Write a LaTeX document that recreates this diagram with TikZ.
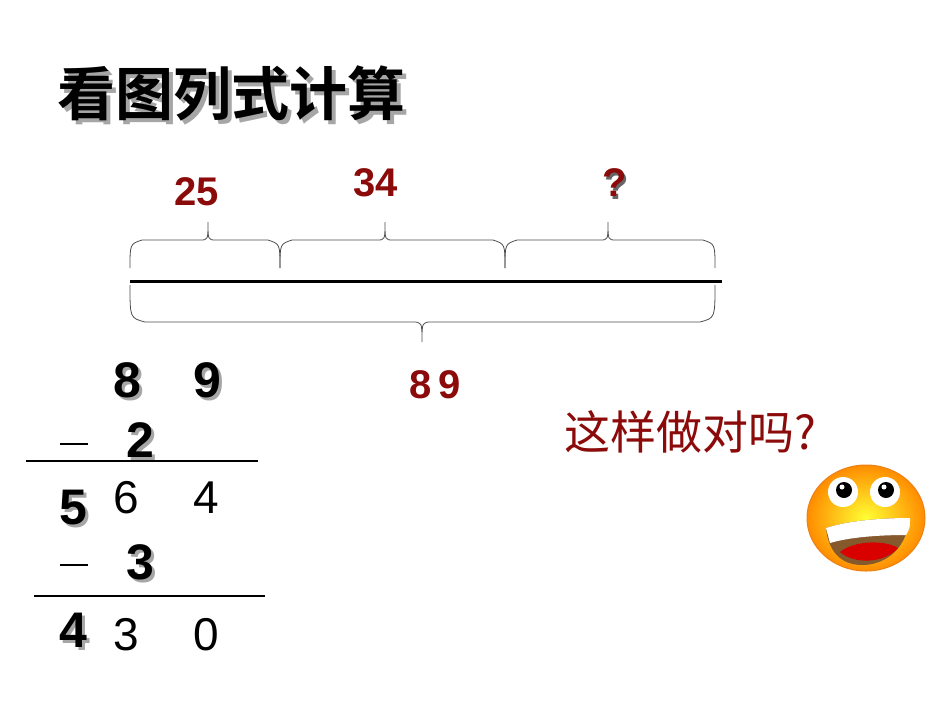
\documentclass[tikz,border=0pt]{standalone}
\usepackage{fontspec}
\setmainfont{Liberation Sans}
\newfontfamily\cjk{Noto Sans CJK SC}
\newfontfamily\cjkb{Noto Sans CJK SC Bold}
\definecolor{dred}{HTML}{8B0A0A}
\begin{document}
\begin{tikzpicture}[x=1pt,y=-1pt,
  lbl/.style={text=dred,font=\fontsize{40}{40}\selectfont\bfseries},
  bd/.style={font=\fontsize{50}{50}\selectfont\bfseries},
  rg/.style={font=\fontsize{46}{46}\selectfont},
  sh/.style={text=black!35},
  thinl/.style={draw=black!70,line width=0.8pt}]
\useasboundingbox (0,0) rectangle (950,713);
\newcommand\ubr[3]{\draw[thinl] (#1,268) .. controls (#1,244) .. (#1+12,240) -- (#2-8,240) .. controls (#2,240) .. (#2,222) .. controls (#2,240) .. (#2+8,240) -- (#3-12,240) .. controls (#3,244) .. (#3,268);}
% title
\node[sh,font=\cjkb\fontsize{58}{58}\selectfont] at (235,97) {看图列式计算};
\node[font=\cjkb\fontsize{58}{58}\selectfont] (title) at (231,93) {看图列式计算};
% line and braces
\coordinate (la) at (130,281); \coordinate (lb) at (722,281);
\draw[line width=3pt] (la) -- (lb);
\ubr{130}{208}{280}
\ubr{280}{385}{505}
\ubr{505}{608}{715}
\draw[thinl] (130,285) .. controls (130,318) .. (145,322) -- (412,322) .. controls (422,322) .. (422,342) .. controls (422,322) .. (432,322) -- (700,322) .. controls (715,318) .. (715,285);
\node[lbl] (n25) at (197,192) {25};
\node[lbl] (n34) at (376,183) {34};
\node[lbl,text=black!60] at (617,186) {?};
\node[lbl] (nq) at (615,183) {?};
\node[lbl] (n89) at (435,385) {8\,9};
\node[text=dred,font=\cjk\fontsize{46}{46}\selectfont] (ask) at (690,432) {这样做对吗?};
% vertical subtraction
\foreach \t/\x/\y in {8/127/380,9/207/380,2/140/440,5/73/508,3/140/562,4/73/630}{
  \node[bd,sh] at (\x+3,\y+3) {\t};
  \node[bd] at (\x,\y) {\t};}
\coordinate (m1a) at (60,444); \coordinate (m1b) at (88,444);
\coordinate (m2a) at (60,565); \coordinate (m2b) at (88,565);
\draw[line width=1.5pt] (m1a) -- (m1b);
\draw[line width=1.5pt] (m2a) -- (m2b);
\coordinate (a1) at (26,461); \coordinate (b1) at (258,461);
\coordinate (a2) at (34,596); \coordinate (b2) at (265,596);
\draw[line width=1.5pt] (a1) -- (b1);
\draw[line width=1.5pt] (a2) -- (b2);
\node[rg] at (126,498) {6}; \node[rg] at (206,498) {4};
\node[rg] at (126,635) {3}; \node[rg] at (206,635) {0};
% smiley
\shade[inner color=yellow!80!white,outer color=orange!90!yellow] (866,518) ellipse [x radius=59, y radius=53];
\draw[orange!70!brown,line width=1pt] (866,518) ellipse [x radius=59, y radius=53];
\foreach \ex in {843,885}{
  \fill[white] (\ex,492) circle (15);
  \fill[black] (\ex+1,490) circle (8);
  \fill[white] (\ex-1,487) circle (2.5);}
\fill[brown!70!black] (826,528) .. controls (850,520) and (885,518) .. (910,518) .. controls (905,555) and (880,565) .. (862,565) .. controls (840,565) and (828,550) .. (826,528) -- cycle;
\fill[red!85!black] (840,552) .. controls (855,540) and (885,540) .. (898,548) .. controls (885,563) and (855,565) .. (840,552) -- cycle;
\fill[white] (826,528) .. controls (850,520) and (885,518) .. (910,518) .. controls (910,528) .. (906,535) .. controls (880,535) and (850,537) .. (830,543) -- cycle;
\end{tikzpicture}
\end{document}
